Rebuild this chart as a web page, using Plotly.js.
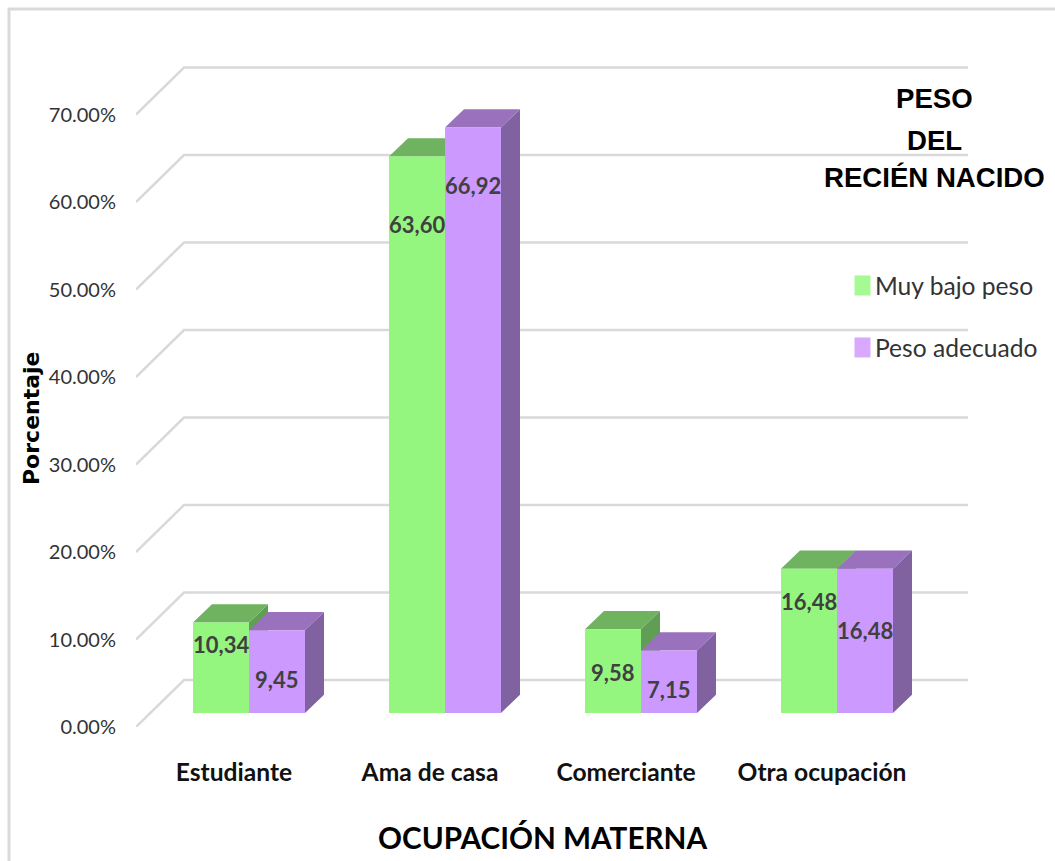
<!DOCTYPE html>
<html>
<head>
<meta charset="utf-8">
<script src="https://cdn.plot.ly/plotly-3.0.1.min.js"></script>
<style>
  html, body { margin:0; padding:0; background:#ffffff; }
</style>
</head>
<body>
<div id="myDiv"></div>
<script>
// values
let categories = ['Estudiante', 'Ama de casa', 'Comerciante', 'Otra ocupación'];
let muyBajoPeso = [10.34, 63.60, 9.58, 16.48];
let pesoAdecuado = [9.45, 66.92, 7.15, 16.48];
let yTicks = [0, 10, 20, 30, 40, 50, 60, 70];
let legendTitleLines = ['PESO', 'DEL', 'RECIÉN NACIDO'];

// page geometry, the fake 3d is worked out from the px scale of the axes
let pageW = 1055, pageH = 861;
let marginL = 136, marginT = 20, marginB = 134;
let pxPerCat = 196, pxPerUnit = 8.75;

let xRange = [0, (pageW - marginL) / pxPerCat];
let yRange = [0, (pageH - marginB - marginT) / pxPerUnit];

let wallDx = 48 / pxPerCat, wallDy = 47 / pxPerUnit;   // floor depth
let barDx = 19 / pxPerCat, barDy = 18.3 / pxPerUnit;   // bar depth
let barLift = 14 / pxPerUnit;                          // bars stand inside the floor
let barShift = 0.0765;
let barW = 56 / pxPerCat;

// px to paper helpers for the free text
function paperX(px) { return (px - marginL) / (pageW - marginL); }
function paperY(py) { return (pageH - marginB - py) / (pageH - marginB - marginT); }

function gridTrace() {
  let xs = [], ys = [];
  yTicks.forEach(function(t) {
    xs.push(0, wallDx, categories.length + wallDx, null);
    ys.push(t, t + wallDy, t + wallDy, null);
  });
  return { x: xs, y: ys, mode: 'lines', type: 'scatter', showlegend: false, hoverinfo: 'skip',
           line: { color: '#d9d9d9', width: 2.5 } };
}

// one polygon per bar, left: bar front left offset inside the category
function faceTrace(values, left, face, color) {
  let xs = [], ys = [];
  values.forEach(function(v, i) {
    let xL = i + left, xR = xL + barW, top = v + barLift;
    if (face == 'side') {
      xs.push(xR, xR + barDx, xR + barDx, xR, xR, null);
      ys.push(barLift, barLift + barDy, top + barDy, top, barLift, null);
    } else {
      xs.push(xL, xL + barDx, xR + barDx, xR, xL, null);
      ys.push(top, top + barDy, top + barDy, top, top, null);
    }
  });
  return { x: xs, y: ys, mode: 'none', type: 'scatter', fill: 'toself', fillcolor: color,
           showlegend: false, hoverinfo: 'skip' };
}

function barTrace(name, values, color, group) {
  return { x: categories.map(function(c, i) { return i + 0.5 + barShift; }),
           y: values,
           base: barLift,
           name: name,
           type: 'bar',
           xaxis: 'x2',
           yaxis: 'y2',
           legendgroup: group,
           hoverinfo: 'y',
           marker: { color: color } };
}

let leftGreen = 0.5 + barShift - barW;
let leftPurple = 0.5 + barShift;

let data = [
  gridTrace(),
  faceTrace(muyBajoPeso, leftGreen, 'side', '#5f9e54'),
  faceTrace(muyBajoPeso, leftGreen, 'top', '#6fb25f'),
  faceTrace(pesoAdecuado, leftPurple, 'side', '#8062a0'),
  faceTrace(pesoAdecuado, leftPurple, 'top', '#9a71bd'),
  barTrace('Muy bajo peso', muyBajoPeso, '#94f57f', 'a'),
  barTrace('Peso adecuado', pesoAdecuado, '#cc99ff', 'b')
];

// data labels were placed by hand in the original, offsets in px below the bar top
let greenLabelDrop = [22, 68, 43, 33];
let purpleLabelDrop = [49, 58, 39, 62];

function barLabels(values, left, drops) {
  return values.map(function(v, i) {
    return { x: i + left + barW / 2, y: v + barLift, xref: 'x', yref: 'y', yanchor: 'middle',
             yshift: -drops[i], showarrow: false, text: '<b>' + v.toFixed(2).replace('.', ',') + '</b>',
             font: { family: 'Lato', size: 22, color: '#404040' } };
  });
}

let titleRows = [98, 140, 178];
let titleNotes = legendTitleLines.map(function(t, i) {
  return { x: paperX(934), y: paperY(titleRows[i]), xref: 'paper', yref: 'paper',
           xanchor: 'center', yanchor: 'middle',
           showarrow: false, text: '<b>' + t + '</b>',
           font: { family: 'Liberation Sans', size: 27.6, color: '#000000' } };
});

let annotations = barLabels(muyBajoPeso, leftGreen, greenLabelDrop)
  .concat(barLabels(pesoAdecuado, leftPurple, purpleLabelDrop))
  .concat(titleNotes)
  .concat([
    { x: paperX(542), y: paperY(837), xref: 'paper', yref: 'paper', showarrow: false,
      xanchor: 'center', yanchor: 'middle',
      text: '<b>OCUPACIÓN MATERNA</b>', font: { family: 'Lato', size: 29.7, color: '#000000' } },
    { x: paperX(31), y: paperY(418), xref: 'paper', yref: 'paper', showarrow: false, textangle: -90,
      xanchor: 'center', yanchor: 'middle',
      text: '<b>Porcentaje</b>', font: { family: 'DejaVu Sans', size: 22, color: '#000000' } }
  ]);

let layout = {
  width: pageW,
  height: pageH,
  paper_bgcolor: '#ffffff',
  plot_bgcolor: 'rgba(0,0,0,0)',
  margin: { l: marginL, r: 0, t: marginT, b: marginB, pad: 0, autoexpand: false },
  barmode: 'group',
  bargap: 84 / 196,
  bargroupgap: 0,
  xaxis: { range: xRange, tickmode: 'array',
           tickvals: categories.map(function(c, i) { return i + 0.5; }),
           ticktext: categories.map(function(c) { return '<b>' + c + '</b>'; }),
           ticks: '', showgrid: false, zeroline: false, showline: false,
           ticklabelstandoff: 28,
           tickfont: { family: 'Lato', size: 24.6, color: '#111111' } },
  yaxis: { range: yRange, tickmode: 'array', tickvals: yTicks,
           ticktext: yTicks.map(function(t) { return t.toFixed(2) + '%'; }),
           ticks: '', showgrid: false, zeroline: false, showline: false,
           ticklabelstandoff: 19,
           tickfont: { family: 'Lato', size: 20, color: '#333333' } },
  xaxis2: { overlaying: 'x', range: xRange, visible: false },
  yaxis2: { overlaying: 'y', range: yRange, visible: false },
  legend: { x: paperX(835), y: paperY(263), xanchor: 'left', yanchor: 'top',
            traceorder: 'grouped', tracegroupgap: 27, bgcolor: 'rgba(0,0,0,0)',
            font: { family: 'Lato', size: 24.6, color: '#333333' } },
  shapes: [
    // the light frame round the picture, only left and top show
    { type: 'rect', xref: 'paper', yref: 'paper', layer: 'below',
      x0: paperX(9), x1: paperX(pageW + 20), y0: paperY(pageH + 20), y1: paperY(9),
      line: { color: '#d9d9d9', width: 3 } }
  ],
  annotations: annotations
};

let config = { displayModeBar: false };

// legend swatches are bigger and paler in the original, plotly has no option for the size
let swatchColors = ['#a6fa93', '#d9a9ff'];

function fixSwatches() {
  document.querySelectorAll('#myDiv g.legendpoints path').forEach(function(p, i) {
    p.setAttribute('d', 'M15.5,10H-0.5V-10H15.5Z');
    p.style.fill = swatchColors[i];
  });
}

Plotly.newPlot('myDiv', data, layout, config).then(function() {
  fixSwatches();
  setTimeout(fixSwatches, 0);
});
</script>
</body>
</html>
